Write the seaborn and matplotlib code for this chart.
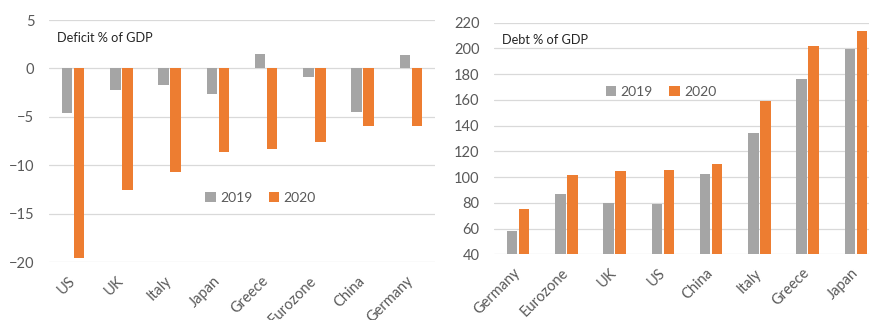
import matplotlib
matplotlib.use("Agg")
import matplotlib.pyplot as plt
import seaborn as sns
import pandas as pd

# ---- data ----
deficit_countries = ["US", "UK", "Italy", "Japan", "Greece", "Eurozone", "China", "Germany"]
deficit_2019 = [-4.6, -2.2, -1.7, -2.6, 1.5, -0.85, -4.5, 1.4]
deficit_2020 = [-19.6, -12.6, -10.7, -8.6, -8.3, -7.6, -6.0, -6.0]

debt_countries = ["Germany", "Eurozone", "UK", "US", "China", "Italy", "Greece", "Japan"]
debt_2019 = [58.4, 86.9, 79.9, 79.4, 102.2, 134.5, 176.5, 199.8]
debt_2020 = [75.0, 101.4, 104.5, 105.3, 110.2, 159.4, 201.9, 213.8]

years = ["2019", "2020"]
deficit_yticks = [5, 0, -5, -10, -15, -20]
debt_yticks = [40, 60, 80, 100, 120, 140, 160, 180, 200, 220]

GRAY = "#A5A5A5"
ORANGE = "#ED7D31"
TICKC = "#595959"
GRIDC = "#D9D9D9"

sns.set_theme(style="white")
plt.rcParams["font.family"] = ["Lato", "DejaVu Sans"]


def long_df(countries, a, b):
    return pd.DataFrame({
        "country": countries * 2,
        "value": list(a) + list(b),
        "year": [years[0]] * len(countries) + [years[1]] * len(countries),
    })


fig = plt.figure(figsize=(8.69, 3.20), dpi=100)
ax1 = fig.add_axes([49 / 869, (320 - 262) / 320, 386 / 869, 242 / 320])
ax2 = fig.add_axes([494 / 869, (320 - 254.3) / 320, 386 / 869, 231.6 / 320])


def style(ax, df, yticks, ylim, title, leg_xy):
    sns.barplot(data=df, x="country", y="value", hue="year",
                palette=[GRAY, ORANGE], saturation=1, width=0.5, gap=0.12,
                linewidth=0, ax=ax, errorbar=None)
    ax.set_ylim(*ylim)
    ax.set_xlim(-0.5, 7.5)
    ax.set_yticks(yticks)
    ax.set_xlabel("")
    ax.set_ylabel("")
    for s in ax.spines.values():
        s.set_visible(False)
    ax.yaxis.grid(True, color=GRIDC, linewidth=0.9)
    ax.xaxis.grid(False)
    ax.set_axisbelow(True)
    ax.tick_params(axis="y", length=0, pad=10.5, labelsize=10.5, labelcolor=TICKC)
    ax.tick_params(axis="x", length=0, pad=12, labelsize=10.5, labelcolor=TICKC)
    for lab in ax.get_xticklabels():
        lab.set_rotation(45)
        lab.set_ha("right")
        lab.set_va("center")
        lab.set_rotation_mode("anchor")
    ax.text(0.021, 0.924, title, transform=ax.transAxes, fontsize=9.2,
            color="#262626", va="center", ha="left")
    ax.legend(loc="center left", bbox_to_anchor=leg_xy, ncol=2, frameon=False,
              fontsize=10, handlelength=0.75, handleheight=0.75,
              handletextpad=0.3, columnspacing=1.2, labelcolor=TICKC,
              borderaxespad=0, borderpad=0)


style(ax1, long_df(deficit_countries, deficit_2019, deficit_2020),
      deficit_yticks, (-20, 5), "Deficit % of GDP", (0.405, 0.264))
style(ax2, long_df(debt_countries, debt_2019, debt_2020),
      debt_yticks, (40, 220), "Debt % of GDP", (0.29, 0.70))

fig.savefig("out.png", dpi=100)
